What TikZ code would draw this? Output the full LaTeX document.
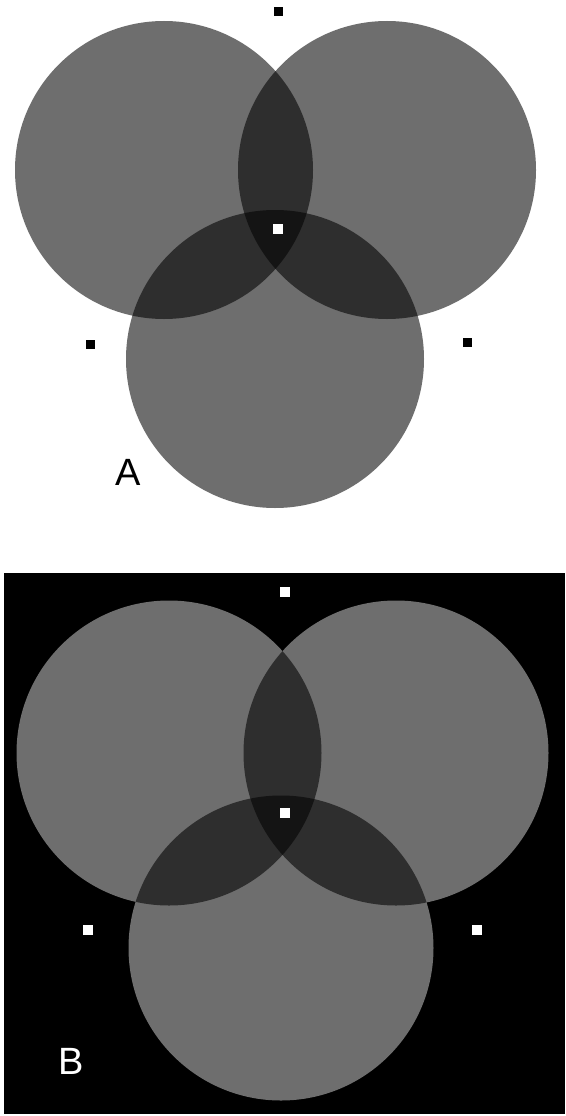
\documentclass[tikz,border=0pt]{standalone}
\usepackage{fontspec}
\setmainfont{Liberation Sans}
\definecolor{one}{gray}{0.43}
\definecolor{two}{gray}{0.18}
\definecolor{three}{gray}{0.08}
\tikzset{
  dot/.style={fill=#1,draw=none,minimum size=9pt,inner sep=0pt,shape=rectangle},
  lbl/.style={font=\fontsize{38}{38}\selectfont,inner sep=0pt}
}
\begin{document}
\begin{tikzpicture}[x=1pt,y=-1pt]
\useasboundingbox (0,0) rectangle (565,1116);
\fill[white] (0,0) rectangle (565,1116);
% ---------- Panel A ----------
\def\r{149}
\coordinate (a1) at (164,170);
\coordinate (a2) at (387,170);
\coordinate (a3) at (275,359);
\foreach \c in {a1,a2,a3} \fill[one] (\c) circle (\r);
\begin{scope}\clip (a1) circle (\r); \fill[two] (a2) circle (\r); \fill[two] (a3) circle (\r);\end{scope}
\begin{scope}\clip (a2) circle (\r); \fill[two] (a3) circle (\r);\end{scope}
\begin{scope}\clip (a1) circle (\r); \clip (a2) circle (\r); \fill[three] (a3) circle (\r);\end{scope}
\node[dot=black] (at) at (278,12) {};
\node[dot=black] (al) at (90,344) {};
\node[dot=black] (ar) at (467,342) {};
\node[dot=white,minimum size=10pt] (ac) at (278,229) {};
\node[lbl,text=black] (la) at (128,472) {A};
% ---------- Panel B ----------
\fill[black] (4,573) rectangle (565,1114);
\def\s{152.5}
\coordinate (b1) at (169,753);
\coordinate (b2) at (396,753);
\coordinate (b3) at (281,948);
\foreach \c in {b1,b2,b3} \fill[one] (\c) circle (\s);
\begin{scope}\clip (b1) circle (\s); \fill[two] (b2) circle (\s); \fill[two] (b3) circle (\s);\end{scope}
\begin{scope}\clip (b2) circle (\s); \fill[two] (b3) circle (\s);\end{scope}
\begin{scope}\clip (b1) circle (\s); \clip (b2) circle (\s); \fill[three] (b3) circle (\s);\end{scope}
\node[dot=white,minimum size=10pt] (bt) at (285,592) {};
\node[dot=white,minimum size=10pt] (bl) at (88,930) {};
\node[dot=white,minimum size=10pt] (br) at (477,930) {};
\node[dot=white,minimum size=10pt] (bc) at (285,813) {};
\node[lbl,text=white] (lb) at (71,1061) {B};
\end{tikzpicture}
\end{document}
